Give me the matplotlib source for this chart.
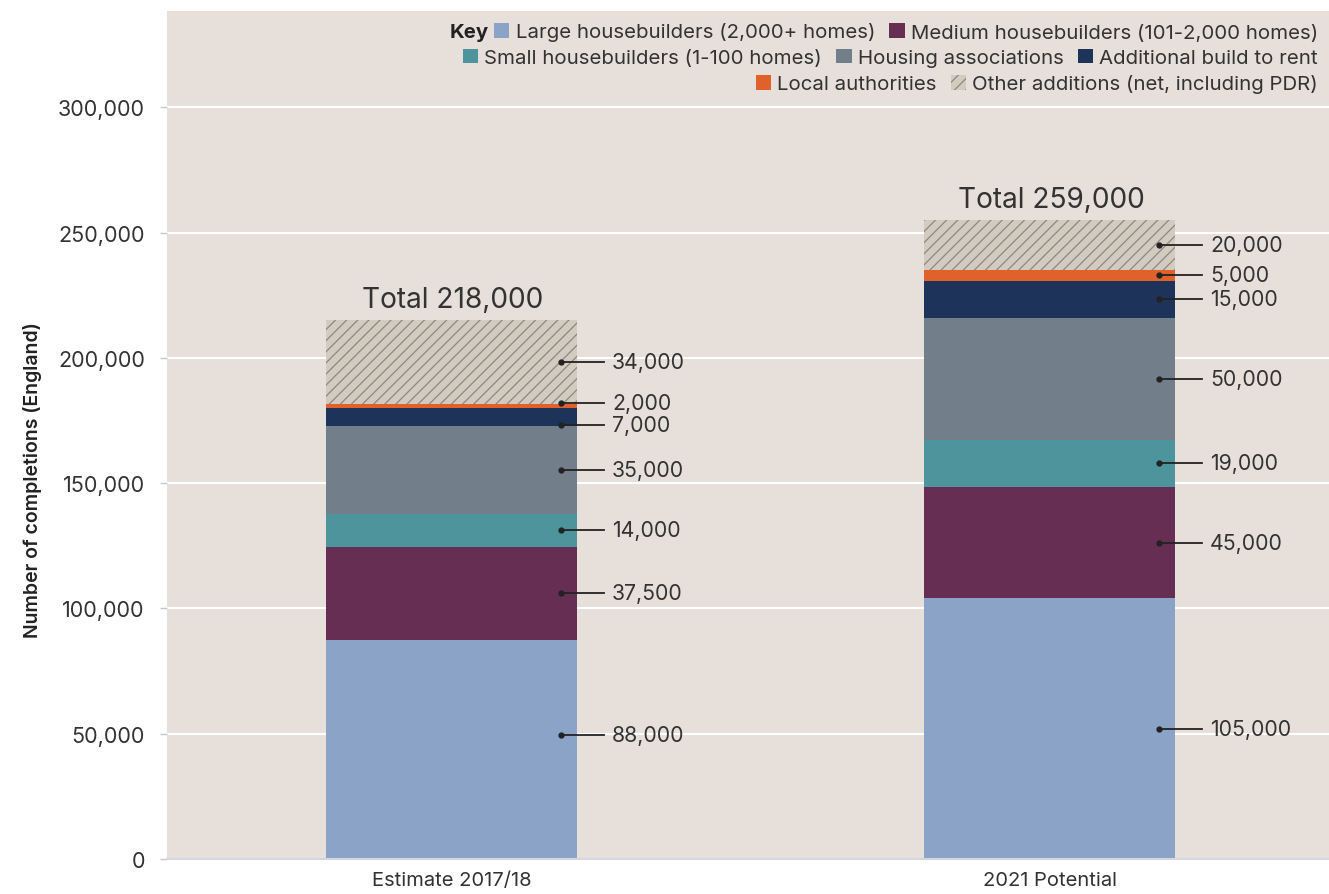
import numpy as np
import matplotlib
matplotlib.use('Agg')
import matplotlib.pyplot as plt
from matplotlib.legend import Legend
from matplotlib.ticker import FuncFormatter

plt.rcParams['font.family'] = ['Inter', 'DejaVu Sans']
plt.rcParams['hatch.linewidth'] = 0.9

# data
periods = ['Estimate 2017/18', '2021 Potential']
series = ['Large housebuilders (2,000+ homes)',
          'Medium housebuilders (101-2,000 homes)',
          'Small housebuilders (1-100 homes)',
          'Housing associations',
          'Additional build to rent',
          'Local authorities',
          'Other additions (net, including PDR)']
# drawn bar segment heights (as plotted in the source)
estimate_2017 = [87400, 37100, 13200, 35200, 7000, 1600, 33500]
potential_2021 = [104100, 44400, 18700, 48800, 14700, 4400, 19900]
# printed segment labels
estimate_labels = ['88,000', '37,500', '14,000', '35,000', '7,000', '2,000', '34,000']
potential_labels = ['105,000', '45,000', '19,000', '50,000', '15,000', '5,000', '20,000']
totals = ['Total 218,000', 'Total 259,000']

colors = ['#8AA3C7', '#652E52', '#4E949C', '#727E8A', '#1E335A', '#E0622A', '#D3CAC0']
bg = '#E6DFDA'
text_col = '#333333'

values = np.array([estimate_2017, potential_2021])
labels = [estimate_labels, potential_labels]

fig = plt.figure(figsize=(13.29, 8.95), dpi=100)
ax = fig.add_axes([167 / 1329, 35 / 895, 1162 / 1329, 848 / 895])
ax.set_facecolor(bg)

x = np.arange(len(periods))
width = 0.42
bottom = np.zeros(len(periods))
handles = []
for i, name in enumerate(series):
    hatched = i == len(series) - 1
    bars = ax.bar(x, values[:, i], width, bottom=bottom,
                  color=colors[i], label=name, zorder=2,
                  hatch='///' if hatched else None,
                  edgecolor='#8E8882' if hatched else colors[i],
                  linewidth=0)
    handles.append(bars)
    bottom += values[:, i]

# leader lines with values (small nudges where labels crowd)
nudge = {(0, 0): 5800, (0, 4): -3300, (0, 5): 1200}
for j in range(len(periods)):
    base = 0
    for i in range(len(series)):
        mid = base + values[j, i] / 2 + nudge.get((j, i), 0)
        base += values[j, i]
        ax.plot([x[j] + 0.183, x[j] + 0.255], [mid, mid],
                color='#222222', lw=1.3, zorder=4)
        ax.plot(x[j] + 0.183, mid, 'o', color='#222222', ms=3.5, zorder=5)
        ax.text(x[j] + 0.268, mid, labels[j][i], fontsize=15.3,
                color=text_col, va='center', ha='left', zorder=5)
    ax.annotate(totals[j], (x[j], bottom[j]), xytext=(1, 5),
                textcoords='offset points', ha='center', va='bottom',
                fontsize=20.2, color=text_col)

ax.set_xlim(-0.476, 1.467)
ax.set_ylim(0, 338400)
ax.set_yticks(np.arange(0, 300001, 50000))
ax.yaxis.set_major_formatter(FuncFormatter(lambda v, p: f'{int(v):,}'))
ax.grid(axis='y', color='white', lw=1.5, zorder=1)
ax.set_axisbelow(True)
ax.set_xticks(x)
ax.set_xticklabels(periods)
ax.tick_params(axis='x', length=0, pad=9, labelsize=14.5, colors=text_col)
ax.tick_params(axis='y', length=5, width=1, color='#C8C8C8', pad=11,
               labelsize=15.5, labelcolor=text_col)
for s in ['top', 'right', 'left']:
    ax.spines[s].set_visible(False)
ax.spines['bottom'].set_color('#D5D5E0')
ax.spines['bottom'].set_linewidth(1.5)

ax.set_ylabel('Number of completions (England)', fontsize=14,
              fontweight='semibold', color='#222222')
ax.yaxis.set_label_coords(-0.108, 0.448)

# legend rows, right aligned
rows = [[0, 1], [2, 3, 4], [5, 6]]
row_y = [1 - 21 / 848, 1 - 47 / 848, 1 - 73 / 848]
legs = []
for r, ry in zip(rows, row_y):
    leg = Legend(ax, [handles[k] for k in r], [series[k] for k in r],
                 ncol=len(r), loc='center right',
                 bbox_to_anchor=(1 - 11 / 1162, ry), frameon=False,
                 fontsize=14.7, handlelength=0.75, handleheight=0.7,
                 handletextpad=0.3, columnspacing=0.7, borderpad=0,
                 borderaxespad=0, labelcolor=text_col)
    ax.add_artist(leg)
    legs.append(leg)

fig.canvas.draw()
bb = legs[0].get_window_extent().transformed(ax.transAxes.inverted())
ax.text(bb.x0 - 0.005, row_y[0], 'Key', transform=ax.transAxes,
        fontsize=14.7, fontweight='bold', color='#222222',
        ha='right', va='center')

fig.savefig('out.png', dpi=100, facecolor='white')
